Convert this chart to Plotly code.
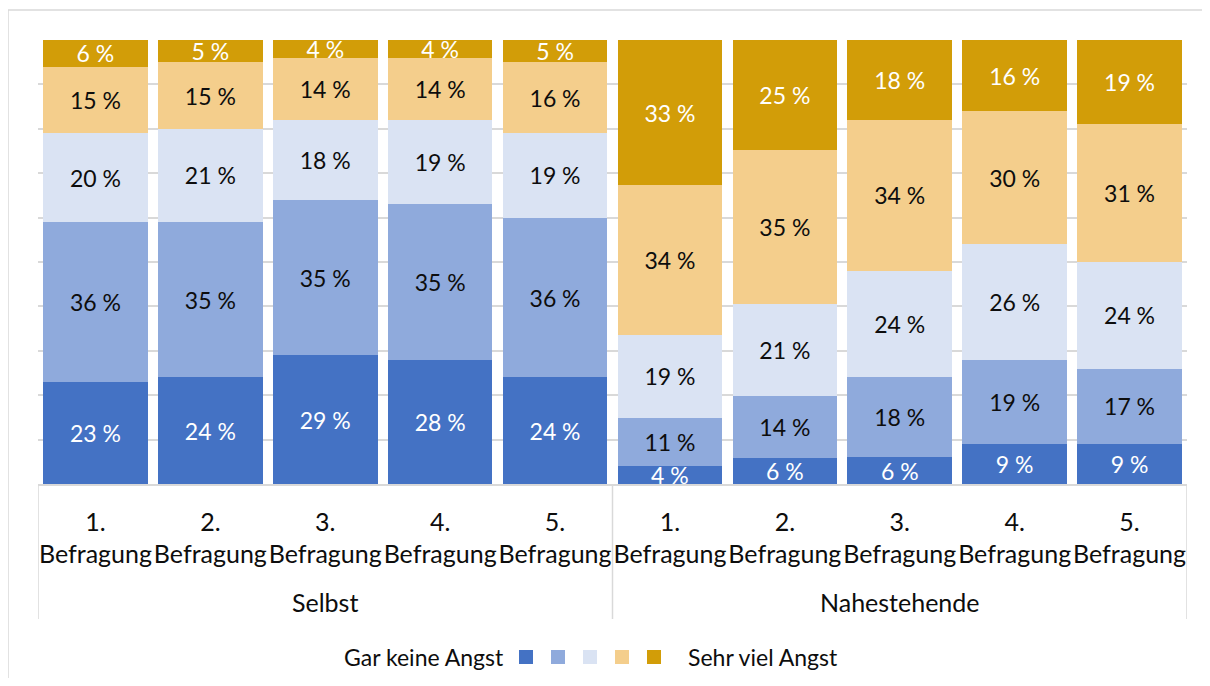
import plotly.graph_objects as go

# ---- data ----
groups = ["Selbst", "Nahestehende"]
waves = ["1.<br>Befragung", "2.<br>Befragung", "3.<br>Befragung", "4.<br>Befragung", "5.<br>Befragung"]
series_names = ["Gar keine Angst", "Wenig Angst", "Etwas Angst", "Viel Angst", "Sehr viel Angst"]
legend_left_label = "Gar keine Angst"
legend_right_label = "Sehr viel Angst"

# values per level, 5 Selbst waves followed by 5 Nahestehende waves
lvl1 = [23, 24, 29, 28, 24, 4, 6, 6, 9, 9]
lvl2 = [36, 35, 35, 35, 36, 11, 14, 18, 19, 17]
lvl3 = [20, 21, 18, 19, 19, 19, 21, 24, 26, 24]
lvl4 = [15, 15, 14, 14, 16, 34, 35, 34, 30, 31]
lvl5 = [6, 5, 4, 4, 5, 33, 25, 18, 16, 19]

series_values = [lvl1, lvl2, lvl3, lvl4, lvl5]
colors = ["#4472C4", "#8FAADC", "#DAE3F3", "#F4CE8C", "#D29D08"]
text_colors = ["#FFFFFF", "#0D0D0D", "#0D0D0D", "#0D0D0D", "#FFFFFF"]

FONT = "Lato"
INK = "#0D0D0D"
x_idx = list(range(len(groups) * len(waves)))
tick_text = waves * len(groups)

# page offset (body margin) and figure size
OFF = 8
W, H = 1194, 670
# plot area in page pixels: x 38..1187, y 40..484
L, R, T, B = 38 - OFF, 1187 - OFF, 40 - OFF, 484 - OFF
pw, ph = R - L, B - T

def px_x(p):  # page px -> paper x
    return (p - OFF - L) / pw

def px_y(p):  # page px -> paper y
    return (B - (p - OFF)) / ph

fig = go.Figure()
for i, (vals, name) in enumerate(zip(series_values, series_names)):
    fig.add_trace(go.Bar(
        x=x_idx,
        y=vals,
        name=name,
        legendgroup=f"g{i}",
        showlegend=False,
        marker=dict(color=colors[i], line=dict(width=0)),
        text=[f"{v} %" for v in vals],
        textposition="inside",
        insidetextanchor="middle",
        textangle=0,
        constraintext="none",
        textfont=dict(family=FONT, size=23, color=text_colors[i]),
        hovertemplate=name + ": %{text}<extra></extra>",
    ))

# legend swatches (names shown as captions beside the legend)
for i, name in enumerate(series_names):
    fig.add_trace(go.Scatter(
        x=[None], y=[None],
        mode="markers",
        name=" ",
        legendgroup=f"g{i}",
        showlegend=True,
        marker=dict(symbol="square", size=14, color=colors[i], line=dict(width=0)),
        hoverinfo="skip",
    ))

fig.update_layout(
    width=W, height=H,
    barmode="stack",
    barnorm="percent",
    bargap=0.09,
    paper_bgcolor="white",
    plot_bgcolor="white",
    margin=dict(l=L, r=W - R, t=T, b=H - B, pad=0, autoexpand=False),
    font=dict(family=FONT, size=23, color=INK),
    showlegend=True,
    legend=dict(
        orientation="h",
        x=px_x(506), xanchor="left",
        y=px_y(657), yanchor="middle",
        font=dict(family=FONT, size=23, color=INK),
        traceorder="normal",
        entrywidthmode="fraction",
        entrywidth=32 / pw,
        bgcolor="rgba(0,0,0,0)",
    ),
    xaxis=dict(
        range=[-0.5, 9.5],
        tickmode="array",
        tickvals=x_idx,
        ticktext=tick_text,
        tickangle=0,
        ticklabeloverflow="allow",
        ticks="outside",
        ticklen=15,
        tickcolor="rgba(0,0,0,0)",
        showline=True,
        linecolor="#D9D9D9",
        linewidth=1.5,
        showgrid=False,
        zeroline=False,
        tickfont=dict(family=FONT, size=25, color=INK),
        fixedrange=True,
    ),
    yaxis=dict(
        range=[0, 100],
        dtick=10,
        showgrid=True,
        gridcolor="#D9D9D9",
        gridwidth=1.5,
        showticklabels=False,
        zeroline=False,
        showline=False,
        fixedrange=True,
    ),
)

# group labels
for gi, g in enumerate(groups):
    fig.add_annotation(
        x=gi * len(waves) + (len(waves) - 1) / 2, xref="x",
        y=px_y(602), yref="paper",
        text=g, showarrow=False, yanchor="middle",
        font=dict(family=FONT, size=25, color=INK),
    )

# group dividers
for xv in [-0.5, 4.5, 9.5]:
    fig.add_shape(type="line", xref="x", yref="paper",
                  x0=xv, x1=xv, y0=0, y1=px_y(619),
                  line=dict(color="#D9D9D9", width=1.5))

# legend captions
fig.add_annotation(
    x=px_x(506), xref="paper", xanchor="right",
    y=px_y(657), yref="paper", yanchor="middle",
    text=legend_left_label, showarrow=False,
    font=dict(family=FONT, size=23, color=INK),
)
fig.add_annotation(
    x=px_x(686), xref="paper", xanchor="left",
    y=px_y(657), yref="paper", yanchor="middle",
    text=legend_right_label, showarrow=False,
    font=dict(family=FONT, size=23, color=INK),
)

# chart border
fig.add_shape(type="rect", xref="paper", yref="paper",
              x0=px_x(8), x1=px_x(1240), y0=px_y(10), y1=px_y(720),
              line=dict(color="#D9D9D9", width=1.5), fillcolor="rgba(0,0,0,0)",
              layer="below")

fig.write_html("out.html")
